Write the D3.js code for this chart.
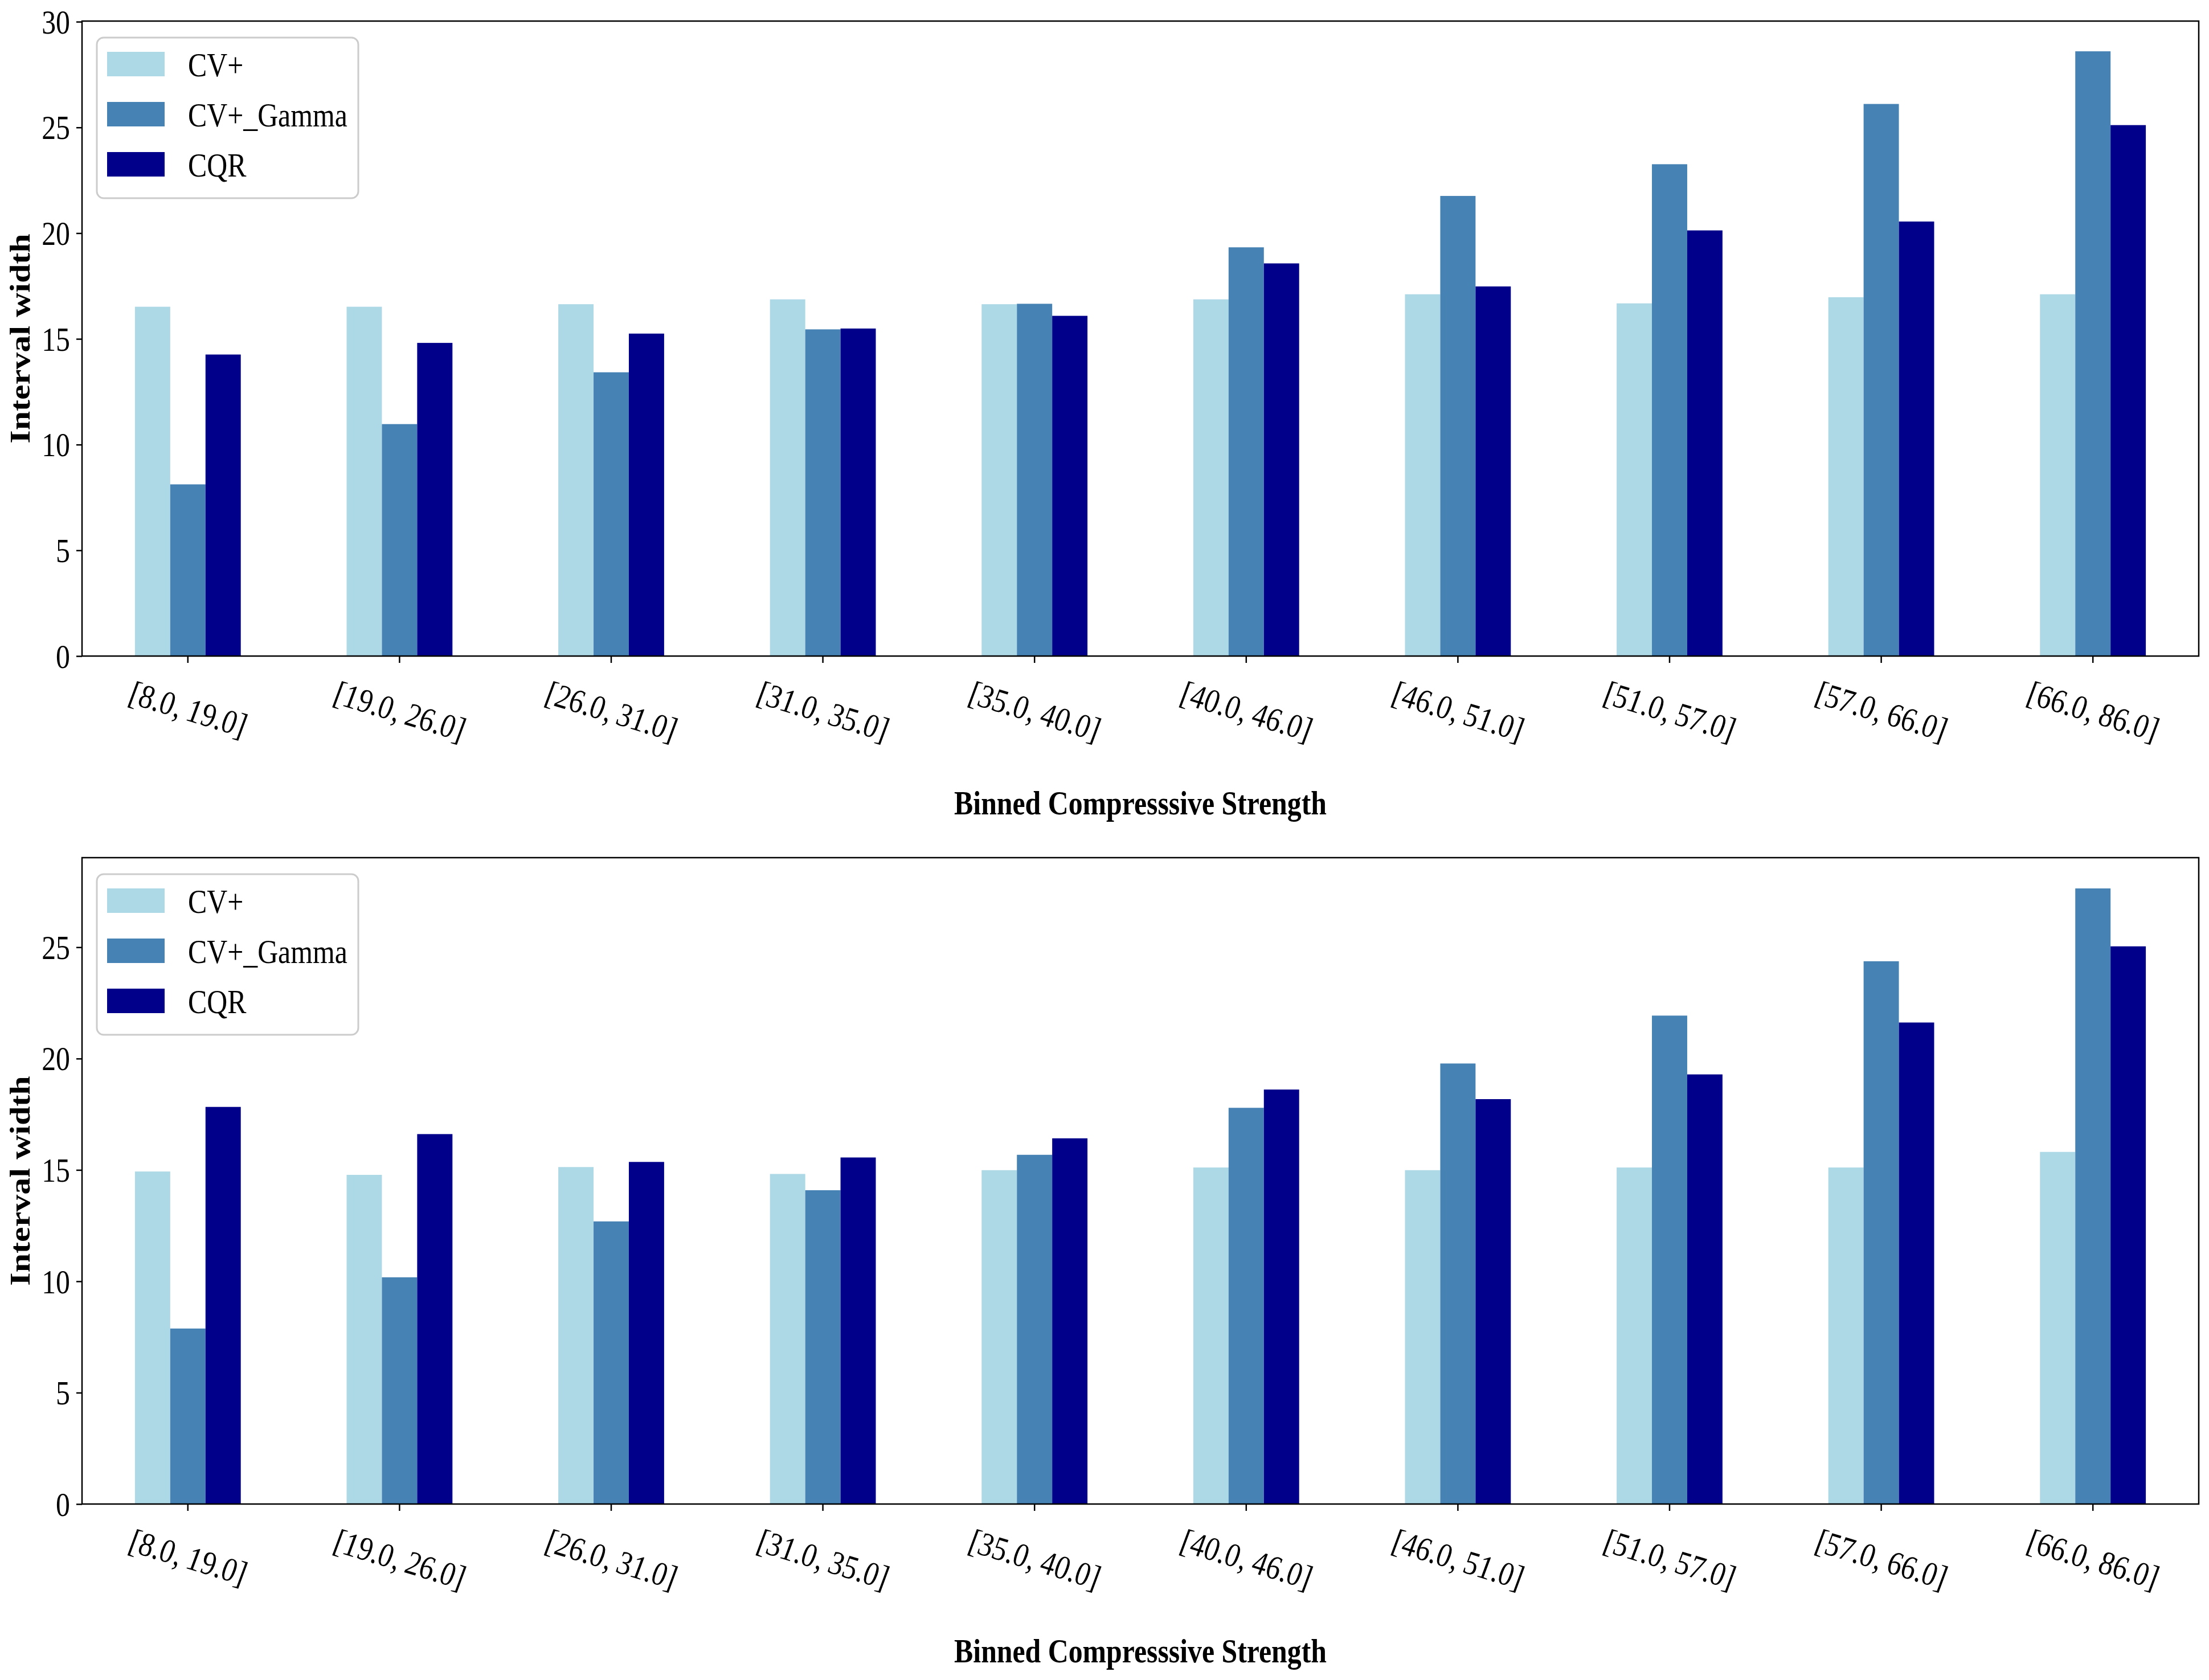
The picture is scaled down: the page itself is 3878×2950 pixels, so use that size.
<!DOCTYPE html>
<html>
<head>
<meta charset="utf-8">
<title>Interval width by binned compressive strength</title>
<script src="https://cdn.jsdelivr.net/npm/d3@7"></script>
<style>
    body { margin: 0; background: #ffffff; }
    text { font-family: "Liberation Serif", "Times New Roman", serif; fill: #000000; }
</style>
</head>
<body>
<script>
//bin labels on the x axis
var categories = ["[8.0, 19.0]", "[19.0, 26.0]", "[26.0, 31.0]", "[31.0, 35.0]", "[35.0, 40.0]",
    "[40.0, 46.0]", "[46.0, 51.0]", "[51.0, 57.0]", "[57.0, 66.0]", "[66.0, 86.0]"];
var seriesNames = ["CV+", "CV+_Gamma", "CQR"];
var seriesColors = ["#add8e6", "#4682b4", "#00008b"];

//upper panel values
var topCVPlus = [16.52, 16.52, 16.64, 16.87, 16.64, 16.87, 17.11, 16.68, 16.97, 17.11];
var topGamma  = [8.12, 10.97, 13.42, 15.45, 16.66, 19.33, 21.76, 23.26, 26.11, 28.60];
var topCQR    = [14.26, 14.81, 15.25, 15.49, 16.09, 18.57, 17.48, 20.13, 20.55, 25.11];
var topTicks  = [0, 5, 10, 15, 20, 25, 30];

//lower panel values
var bottomCVPlus = [14.93, 14.78, 15.13, 14.82, 14.99, 15.11, 14.99, 15.11, 15.11, 15.81];
var bottomGamma  = [7.88, 10.18, 12.69, 14.09, 15.68, 17.79, 19.78, 21.93, 24.37, 27.64];
var bottomCQR    = [17.83, 16.61, 15.36, 15.56, 16.42, 18.61, 18.18, 19.29, 21.62, 25.04];
var bottomTicks  = [0, 5, 10, 15, 20, 25];

var xLabel = "Binned Compresssive Strength";
var yLabel = "Interval width";

(function(){

    //figure size and the horizontal squeeze of the source image
    var width = 3878,
        height = 2950,
        squash = 0.83,
        fontSize = 60,
        left = 144,
        right = 3860;

    var svg = d3.select("body")
        .append("svg")
        .attr("width", width)
        .attr("height", height);

    svg.append("rect")
        .attr("width", width)
        .attr("height", height)
        .attr("fill", "#ffffff");

    drawPanel([topCVPlus, topGamma, topCQR], topTicks, 37, 1152, 1430);
    drawPanel([bottomCVPlus, bottomGamma, bottomCQR], bottomTicks, 1506, 2641, 2919);

    function drawPanel(series, ticks, top, bottom, labelY){
        var g = svg.append("g");

        //data rows, one per bin
        var rows = categories.map(function(c, i){
            return { cat: c, values: series.map(function(s){ return s[i]; }) };
        });

        var x0 = d3.scaleBand()
            .domain(categories)
            .range([left, right])
            .paddingInner(0.5)
            .paddingOuter(0.25);

        var x1 = d3.scaleBand()
            .domain(seriesNames)
            .range([0, x0.bandwidth()]);

        //matplotlib style headroom of 5 percent
        var maxVal = d3.max(series, function(s){ return d3.max(s); });
        var y = d3.scaleLinear()
            .domain([0, maxVal * 1.05])
            .range([bottom, top]);

        //bars
        var groups = g.selectAll(".group")
            .data(rows)
            .enter()
            .append("g")
            .attr("class", "group")
            .attr("transform", function(d){ return "translate(" + x0(d.cat) + ",0)"; });

        groups.selectAll("rect")
            .data(function(d){
                return d.values.map(function(v, k){ return { name: seriesNames[k], value: v, k: k }; });
            })
            .enter()
            .append("rect")
            .attr("x", function(d){ return x1(d.name); })
            .attr("width", x1.bandwidth())
            .attr("y", function(d){ return y(d.value); })
            .attr("height", function(d){ return bottom - y(d.value); })
            .attr("fill", function(d){ return seriesColors[d.k]; });

        //y axis
        var yAxis = d3.axisLeft(y)
            .tickValues(ticks)
            .tickFormat(d3.format("d"))
            .tickSize(10)
            .tickSizeOuter(0);

        var ya = g.append("g")
            .attr("transform", "translate(" + left + ",0)")
            .call(yAxis);
        ya.select(".domain").remove();
        ya.selectAll("line").attr("stroke", "#000").attr("stroke-width", 2.5);
        ya.selectAll("text")
            .attr("x", null)
            .attr("dy", null)
            .attr("dominant-baseline", "central")
            .attr("text-anchor", "end")
            .attr("transform", "translate(-21,0) scale(" + squash + ",1)")
            .style("font-size", fontSize + "px")
            .style("font-family", "'Liberation Serif', serif")
            .attr("fill", "#000");

        //x axis
        var xAxis = d3.axisBottom(x0)
            .tickSize(12)
            .tickSizeOuter(0);

        var xa = g.append("g")
            .attr("transform", "translate(0," + bottom + ")")
            .call(xAxis);
        xa.select(".domain").remove();
        xa.selectAll("line").attr("stroke", "#000").attr("stroke-width", 2.5);
        var angle = 14;
        xa.selectAll("text")
            .attr("y", null)
            .attr("dy", null)
            .attr("text-anchor", "middle")
            .attr("dominant-baseline", "central")
            .style("font-size", fontSize + "px")
            .style("font-style", "italic")
            .style("font-family", "'Liberation Serif', serif")
            .attr("fill", "#000")
            .attr("transform", function(){
                var w = this.getComputedTextLength();
                var rad = angle * Math.PI / 180;
                var boxH = w * Math.sin(rad) + 66 * Math.cos(rad);
                return "translate(0," + (30 + boxH / 2) + ") scale(" + squash + ",1) rotate(" + angle + ")";
            });

        //frame
        g.append("rect")
            .attr("x", left)
            .attr("y", top)
            .attr("width", right - left)
            .attr("height", bottom - top)
            .attr("fill", "none")
            .attr("stroke", "#000")
            .attr("stroke-width", 2.5);

        //axis titles
        g.append("text")
            .attr("transform", "translate(52," + ((top + bottom) / 2) + ") scale(" + squash + ",1) rotate(-90)")
            .attr("text-anchor", "middle")
            .style("font-size", fontSize + "px")
            .style("font-weight", "bold")
            .text(yLabel);

        g.append("text")
            .attr("transform", "translate(" + ((left + right) / 2) + "," + labelY + ") scale(" + squash + ",1)")
            .attr("text-anchor", "middle")
            .style("font-size", fontSize + "px")
            .style("font-weight", "bold")
            .text(xLabel);

        //legend
        var legend = g.append("g")
            .attr("transform", "translate(170," + (top + 29) + ")");

        legend.append("rect")
            .attr("width", 459)
            .attr("height", 282)
            .attr("rx", 12)
            .attr("fill", "#ffffff")
            .attr("fill-opacity", 0.8)
            .attr("stroke", "#cccccc")
            .attr("stroke-width", 3);

        var items = legend.selectAll(".item")
            .data(seriesNames)
            .enter()
            .append("g")
            .attr("class", "item")
            .attr("transform", function(d, i){ return "translate(0," + (25 + i * 88) + ")"; });

        items.append("rect")
            .attr("x", 18)
            .attr("width", 101)
            .attr("height", 43)
            .attr("fill", function(d, i){ return seriesColors[i]; });

        items.append("text")
            .attr("transform", "translate(160," + (21.5 + 21) + ") scale(" + squash + ",1)")
            .style("font-size", fontSize + "px")
            .text(function(d){ return d; });
    }

})();
</script>
</body>
</html>
